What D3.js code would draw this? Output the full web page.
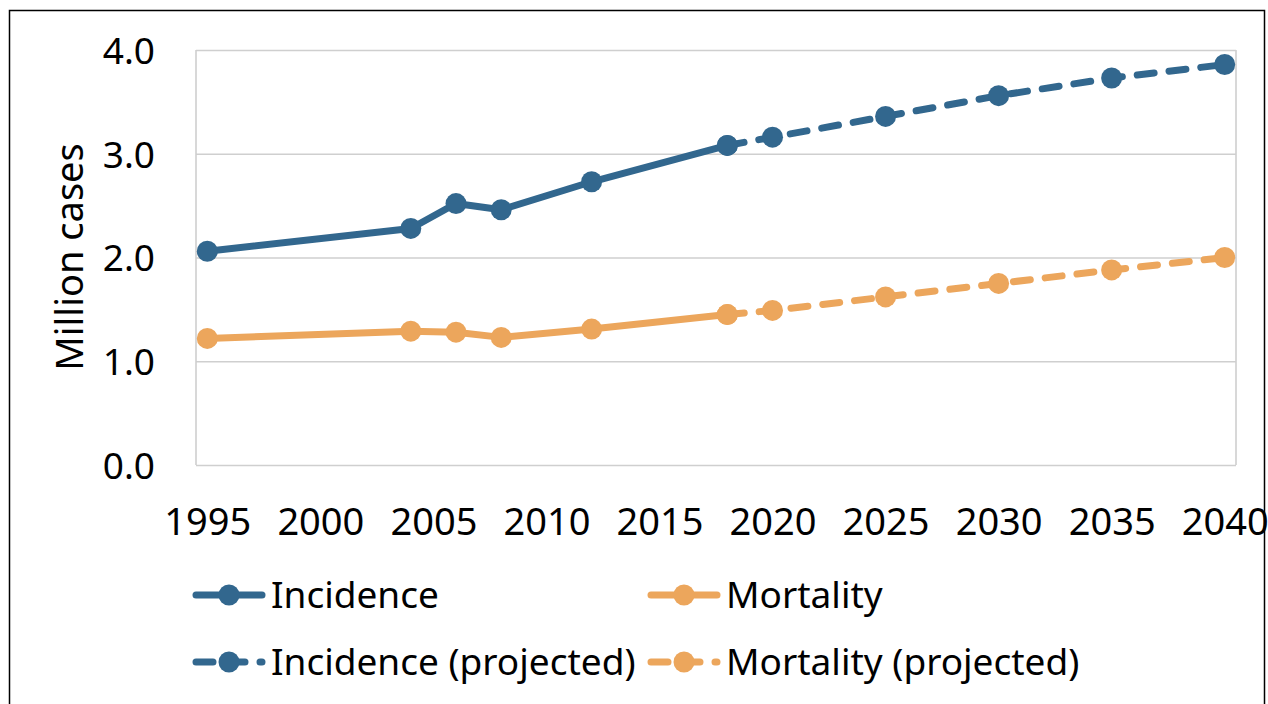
<!DOCTYPE html>
<html>
<head>
<meta charset="utf-8">
<script src="https://cdn.jsdelivr.net/npm/d3@7"></script>
<style>
  html, body { margin: 0; padding: 0; background: #fff; }
  svg { display: block; }
  text { font-family: "Noto Sans", "Open Sans", sans-serif; fill: #000; }
</style>
</head>
<body>
<svg id="chart" width="1268" height="704"></svg>
<script>
// ---- data ----
const incidenceYears = [1995, 2004, 2006, 2008, 2012, 2018];
const incidenceValues = [2.06, 2.28, 2.52, 2.46, 2.73, 3.08];
const incidenceProjYears = [2018, 2020, 2025, 2030, 2035, 2040];
const incidenceProjValues = [3.08, 3.16, 3.36, 3.56, 3.73, 3.86];

const mortalityYears = [1995, 2004, 2006, 2008, 2012, 2018];
const mortalityValues = [1.22, 1.29, 1.28, 1.23, 1.31, 1.45];
const mortalityProjYears = [2018, 2020, 2025, 2030, 2035, 2040];
const mortalityProjValues = [1.45, 1.49, 1.62, 1.75, 1.88, 2.00];

const xTickValues = [1995, 2000, 2005, 2010, 2015, 2020, 2025, 2030, 2035, 2040];
const yTickValues = [0, 1, 2, 3, 4];
const yAxisTitle = "Million cases";
const legendLabels = ["Incidence", "Mortality", "Incidence (projected)", "Mortality (projected)"];

const BLUE = "#32678e";
const ORANGE = "#eca65c";

// ---- layout ----
const svg = d3.select("#chart");
const plot = { left: 196, right: 1236, top: 50, bottom: 465 };

const x = d3.scaleLinear().domain([1994.5, 2040.5]).range([plot.left, plot.right]);
const y = d3.scaleLinear().domain([0, 4]).range([plot.bottom, plot.top]);

// outer frame
svg.append("rect")
  .attr("x", 9.5).attr("y", 10.5).attr("width", 1255).attr("height", 710)
  .attr("fill", "none").attr("stroke", "#000").attr("stroke-width", 1.5);

// gridlines
const yGrid = d3.axisLeft(y).tickValues(yTickValues).tickSize(-(plot.right - plot.left)).tickFormat("");
svg.append("g").attr("transform", `translate(${plot.left},0)`).call(yGrid)
  .call(g => g.select(".domain").remove())
  .call(g => g.selectAll("line").attr("stroke", "#cfcfcf").attr("stroke-width", 1.6));

// plot border verticals
svg.append("line").attr("x1", plot.left).attr("x2", plot.left).attr("y1", plot.top).attr("y2", plot.bottom)
  .attr("stroke", "#cfcfcf").attr("stroke-width", 1.6);
svg.append("line").attr("x1", plot.right).attr("x2", plot.right).attr("y1", plot.top).attr("y2", plot.bottom)
  .attr("stroke", "#cfcfcf").attr("stroke-width", 1.6);

// y axis labels
const yAxis = d3.axisLeft(y).tickValues(yTickValues).tickSize(0).tickPadding(0).tickFormat(d3.format(".1f"));
svg.append("g").attr("transform", `translate(155,0)`).call(yAxis)
  .call(g => g.select(".domain").remove())
  .call(g => g.selectAll("text").attr("font-size", 37).attr("font-family", null).attr("dy", "0.36em").attr("fill", "#000"));

// x axis labels
const xAxis = d3.axisBottom(x).tickValues(xTickValues).tickSize(0).tickPadding(0).tickFormat(d3.format("d"));
svg.append("g").attr("transform", `translate(0,506)`).call(xAxis)
  .call(g => g.select(".domain").remove())
  .call(g => g.selectAll("text").attr("font-size", 38).attr("font-family", null).attr("dy", "0.76em").attr("fill", "#000"));

// y axis title
svg.append("text")
  .attr("transform", "translate(83,257) rotate(-90)")
  .attr("text-anchor", "middle")
  .attr("font-size", 38)
  .text(yAxisTitle);

// ---- series ----
const line = d3.line().x(d => x(d[0])).y(d => y(d[1]));
const DASH = "17,15";

function drawSeries(years, values, color, dashed) {
  const pts = years.map((yr, i) => [yr, values[i]]);
  svg.append("path").datum(pts)
    .attr("d", line)
    .attr("fill", "none")
    .attr("stroke", color)
    .attr("stroke-width", 7)
    .attr("stroke-linecap", "round")
    .attr("stroke-linejoin", "round")
    .attr("stroke-dasharray", dashed ? DASH : null);
  svg.append("g").selectAll("circle").data(pts).join("circle")
    .attr("cx", d => x(d[0])).attr("cy", d => y(d[1])).attr("r", 10.5)
    .attr("fill", color);
}

drawSeries(incidenceProjYears, incidenceProjValues, BLUE, true);
drawSeries(mortalityProjYears, mortalityProjValues, ORANGE, true);
drawSeries(incidenceYears, incidenceValues, BLUE, false);
drawSeries(mortalityYears, mortalityValues, ORANGE, false);

// ---- legend ----
const legendItems = [
  { label: legendLabels[0], color: BLUE, dashed: false, x: 193, y: 595 },
  { label: legendLabels[1], color: ORANGE, dashed: false, x: 648, y: 595 },
  { label: legendLabels[2], color: BLUE, dashed: true, x: 193, y: 662 },
  { label: legendLabels[3], color: ORANGE, dashed: true, x: 648, y: 662 }
];
const lg = svg.append("g");
legendItems.forEach(it => {
  const g = lg.append("g").attr("transform", `translate(${it.x},${it.y})`);
  g.append("line").attr("x1", 3).attr("x2", 69).attr("y1", 0).attr("y2", 0)
    .attr("stroke", it.color).attr("stroke-width", 7).attr("stroke-linecap", "round")
    .attr("stroke-dasharray", it.dashed ? DASH : null);
  g.append("circle").attr("cx", 36).attr("cy", 0).attr("r", 10.5).attr("fill", it.color);
  g.append("text").attr("x", 78).attr("y", 0).attr("dy", "0.36em").attr("font-size", 37).text(it.label);
});
</script>
</body>
</html>
